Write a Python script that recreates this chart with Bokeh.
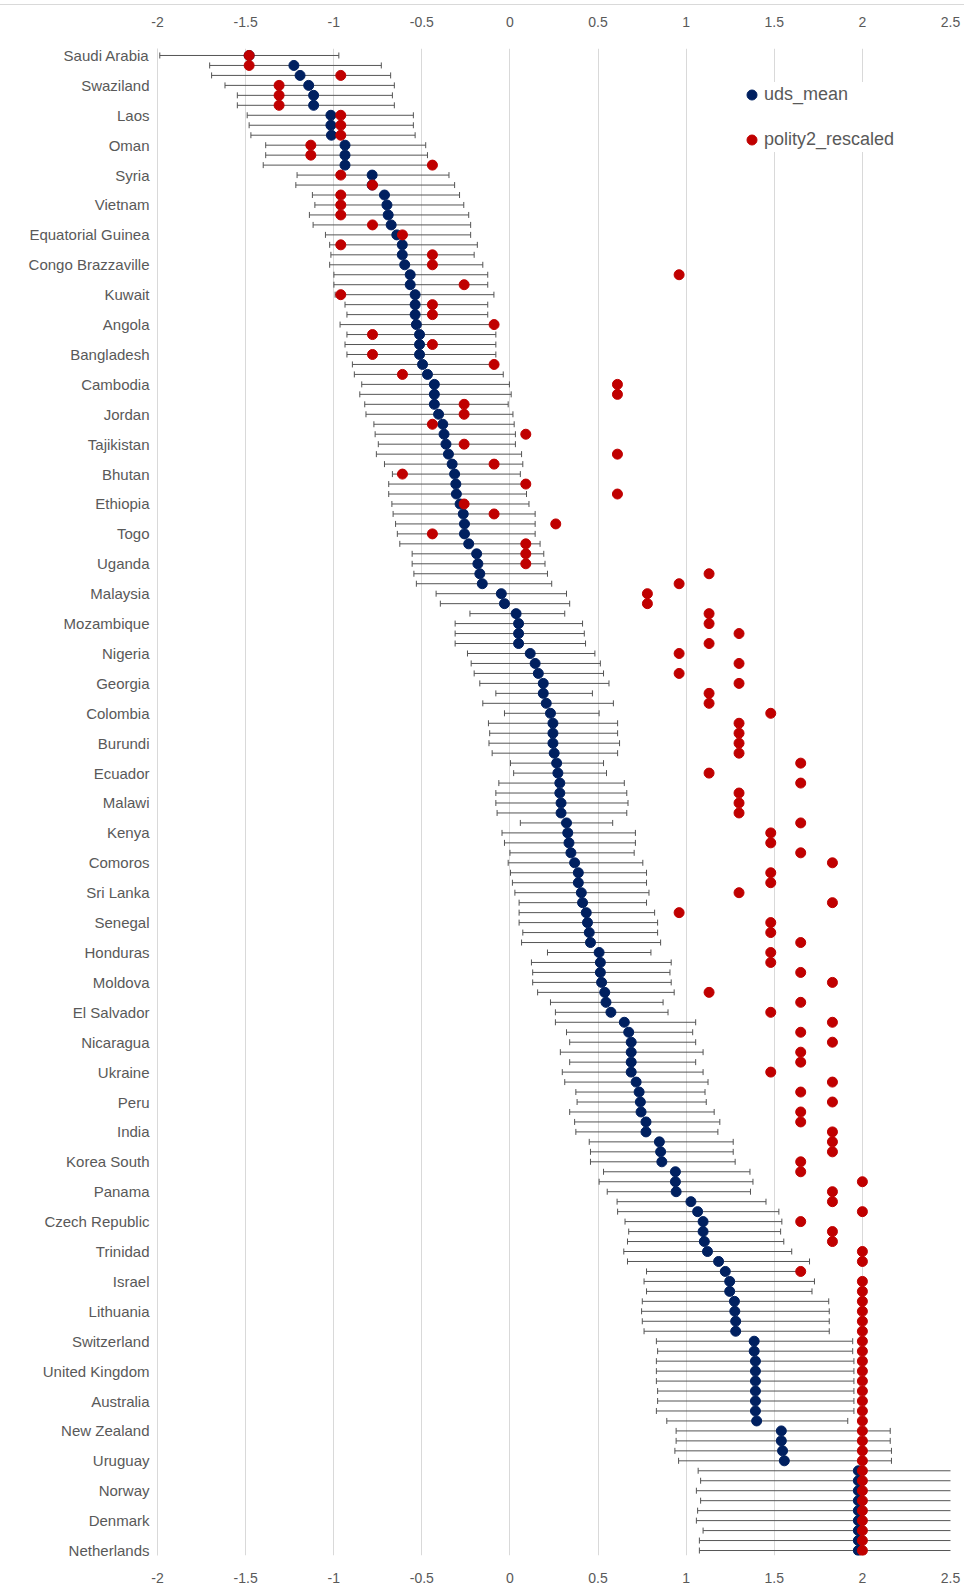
from bokeh.plotting import figure
from bokeh.models import (Range1d, LinearAxis, FixedTicker, ColumnDataSource,
                          Legend, LegendItem, Grid)
from bokeh.embed import file_html
from bokeh.resources import INLINE
import numpy as np

# Country labels (one shown for every third row)
countries = ["Saudi Arabia", "Swaziland", "Laos", "Oman", "Syria", "Vietnam",
             "Equatorial Guinea", "Congo Brazzaville", "Kuwait", "Angola", "Bangladesh",
             "Cambodia", "Jordan", "Tajikistan", "Bhutan", "Ethiopia", "Togo", "Uganda",
             "Malaysia", "Mozambique", "Nigeria", "Georgia", "Colombia", "Burundi",
             "Ecuador", "Malawi", "Kenya", "Comoros", "Sri Lanka", "Senegal", "Honduras",
             "Moldova", "El Salvador", "Nicaragua", "Ukraine", "Peru", "India",
             "Korea South", "Panama", "Czech Republic", "Trinidad", "Israel", "Lithuania",
             "Switzerland", "United Kingdom", "Australia", "New Zealand", "Uruguay",
             "Norway", "Denmark", "Netherlands"]
label_step = 3

uds_mean = [
    -1.48, -1.226, -1.191, -1.142, -1.114, -1.114, -1.016, -1.016, -1.013, -0.936,
    -0.936, -0.936, -0.782, -0.782, -0.712, -0.698, -0.691, -0.674, -0.642, -0.611,
    -0.611, -0.597, -0.566, -0.566, -0.538, -0.538, -0.538, -0.531, -0.513, -0.513,
    -0.513, -0.496, -0.468, -0.429, -0.429, -0.429, -0.405, -0.381, -0.374, -0.363,
    -0.349, -0.328, -0.314, -0.307, -0.304, -0.283, -0.265, -0.258, -0.258, -0.234,
    -0.189, -0.182, -0.171, -0.157, -0.049, -0.031, 0.035, 0.049, 0.049, 0.049,
    0.115, 0.143, 0.161, 0.189, 0.189, 0.206, 0.230, 0.244, 0.244, 0.244,
    0.251, 0.265, 0.272, 0.283, 0.283, 0.290, 0.290, 0.321, 0.328, 0.335,
    0.346, 0.367, 0.388, 0.388, 0.405, 0.412, 0.433, 0.440, 0.450, 0.457,
    0.506, 0.513, 0.513, 0.520, 0.538, 0.545, 0.573, 0.649, 0.674, 0.688,
    0.688, 0.688, 0.688, 0.716, 0.733, 0.740, 0.744, 0.772, 0.772, 0.848,
    0.855, 0.862, 0.939, 0.939, 0.943, 1.027, 1.065, 1.096, 1.096, 1.103,
    1.121, 1.184, 1.222, 1.247, 1.247, 1.274, 1.276, 1.281, 1.281, 1.386,
    1.386, 1.393, 1.393, 1.393, 1.393, 1.393, 1.393, 1.400, 1.540, 1.540,
    1.547, 1.557, 1.977, 1.977, 1.977, 1.977, 1.977, 1.977, 1.977, 1.977,
    1.977]

uds_low = [
    -1.987, -1.704, -1.693, -1.617, -1.547, -1.547, -1.491, -1.480, -1.470, -1.386,
    -1.386, -1.400, -1.208, -1.215, -1.121, -1.107, -1.138, -1.117, -1.047, -1.023,
    -1.016, -1.023, -0.999, -0.999, -0.992, -0.936, -0.925, -0.964, -0.925, -0.936,
    -0.925, -0.894, -0.883, -0.841, -0.852, -0.824, -0.817, -0.772, -0.765, -0.747,
    -0.758, -0.712, -0.667, -0.688, -0.688, -0.670, -0.663, -0.649, -0.639, -0.625,
    -0.555, -0.555, -0.545, -0.531, -0.419, -0.395, -0.227, -0.311, -0.311, -0.311,
    -0.241, -0.220, -0.203, -0.171, -0.080, -0.154, -0.031, -0.122, -0.115, -0.119,
    -0.101, 0.003, 0.021, -0.063, -0.080, -0.080, -0.073, 0.059, -0.045, -0.031,
    0.000, -0.010, 0.003, 0.014, 0.028, 0.052, 0.052, 0.052, 0.073, 0.066,
    0.213, 0.122, 0.129, 0.129, 0.157, 0.230, 0.258, 0.258, 0.321, 0.339,
    0.286, 0.339, 0.297, 0.311, 0.374, 0.381, 0.339, 0.367, 0.374, 0.450,
    0.457, 0.457, 0.531, 0.506, 0.552, 0.608, 0.611, 0.653, 0.674, 0.667,
    0.646, 0.667, 0.775, 0.761, 0.775, 0.751, 0.747, 0.751, 0.761, 0.831,
    0.838, 0.831, 0.831, 0.831, 0.838, 0.838, 0.831, 0.890, 0.943, 0.943,
    0.936, 0.957, 1.068, 1.082, 1.058, 1.082, 1.065, 1.058, 1.096, 1.075,
    1.075]

uds_high = [
    -0.971, -0.730, -0.677, -0.656, -0.667, -0.656, -0.548, -0.548, -0.538, -0.478,
    -0.468, -0.457, -0.346, -0.314, -0.286, -0.262, -0.234, -0.223, -0.223, -0.185,
    -0.203, -0.154, -0.126, -0.126, -0.091, -0.126, -0.126, -0.091, -0.080, -0.080,
    -0.080, -0.087, -0.038, -0.003, 0.007, -0.010, 0.017, 0.024, 0.031, 0.031,
    0.066, 0.073, 0.059, 0.094, 0.094, 0.108, 0.143, 0.143, 0.143, 0.171,
    0.192, 0.199, 0.213, 0.237, 0.321, 0.339, 0.311, 0.412, 0.422, 0.429,
    0.482, 0.513, 0.531, 0.562, 0.468, 0.587, 0.506, 0.611, 0.611, 0.622,
    0.611, 0.531, 0.548, 0.649, 0.663, 0.670, 0.663, 0.583, 0.712, 0.712,
    0.705, 0.754, 0.775, 0.775, 0.789, 0.775, 0.821, 0.838, 0.838, 0.855,
    0.800, 0.915, 0.908, 0.915, 0.932, 0.869, 0.897, 1.054, 1.037, 1.054,
    1.096, 1.054, 1.096, 1.124, 1.107, 1.114, 1.159, 1.191, 1.180, 1.267,
    1.267, 1.278, 1.362, 1.379, 1.365, 1.453, 1.526, 1.543, 1.536, 1.554,
    1.599, 1.700, 1.645, 1.728, 1.714, 1.809, 1.812, 1.812, 1.812, 1.945,
    1.945, 1.952, 1.952, 1.952, 1.952, 1.952, 1.952, 1.917, 2.158, 2.158,
    2.165, 2.165, 2.886, 2.872, 2.896, 2.872, 2.889, 2.896, 2.858, 2.879,
    2.879]

polity2_rescaled = [
    -1.48, -1.48, -0.96, -1.31, -1.31, -1.31, -0.96, -0.96, -0.96, -1.13,
    -1.13, -0.44, -0.96, -0.78, -0.96, -0.96, -0.96, -0.78, -0.61, -0.96,
    -0.44, -0.44, 0.96, -0.26, -0.96, -0.44, -0.44, -0.09, -0.78, -0.44,
    -0.78, -0.09, -0.61, 0.61, 0.61, -0.26, -0.26, -0.44, 0.09, -0.26,
    0.61, -0.09, -0.61, 0.09, 0.61, -0.26, -0.09, 0.26, -0.44, 0.09,
    0.09, 0.09, 1.13, 0.96, 0.78, 0.78, 1.13, 1.13, 1.30, 1.13,
    0.96, 1.30, 0.96, 1.30, 1.13, 1.13, 1.48, 1.30, 1.30, 1.30,
    1.30, 1.65, 1.13, 1.65, 1.30, 1.30, 1.30, 1.65, 1.48, 1.48,
    1.65, 1.83, 1.48, 1.48, 1.30, 1.83, 0.96, 1.48, 1.48, 1.65,
    1.48, 1.48, 1.65, 1.83, 1.13, 1.65, 1.48, 1.83, 1.65, 1.83,
    1.65, 1.65, 1.48, 1.83, 1.65, 1.83, 1.65, 1.65, 1.83, 1.83,
    1.83, 1.65, 1.65, 2.00, 1.83, 1.83, 2.00, 1.65, 1.83, 1.83,
    2.00, 2.00, 1.65, 2.00, 2.00, 2.00, 2.00, 2.00, 2.00, 2.00,
    2.00, 2.00, 2.00, 2.00, 2.00, 2.00, 2.00, 2.00, 2.00, 2.00,
    2.00, 2.00, 2.00, 2.00, 2.00, 2.00, 2.00, 2.00, 2.00, 2.00,
    2.00]

x_ticks = [-2, -1.5, -1, -0.5, 0, 0.5, 1, 1.5, 2, 2.5]
x_tick_labels = ["-2", "-1.5", "-1", "-0.5", "0", "0.5", "1", "1.5", "2", "2.5"]

rows = list(range(len(uds_mean)))
label_rows = rows[::label_step]

FONT = "Liberation Sans"
TEXT_COLOR = "#595959"
GRID_COLOR = "#d9d9d9"
BLUE = "#002060"
RED = "#C00000"
BAR_COLOR = "#555555"

src = ColumnDataSource(dict(row=rows, mean=uds_mean, low=uds_low, high=uds_high,
                            polity=polity2_rescaled))

p = figure(width=964, height=1588, output_backend="svg", toolbar_location=None,
           x_range=Range1d(-2, 2.5), y_range=Range1d(150.5, -0.7),
           x_axis_type=None, y_axis_type=None,
           min_border_left=157, min_border_right=14,
           min_border_top=43, min_border_bottom=38,
           styles={"margin-top": "4px", "border-top": "1px solid #d9d9d9"})
p.outline_line_color = None
p.background_fill_color = "white"
p.border_fill_color = "white"

# vertical gridlines
p.add_layout(Grid(dimension=0, ticker=FixedTicker(ticks=x_ticks),
                  grid_line_color=GRID_COLOR, grid_line_width=1))

overrides = {t: s for t, s in zip(x_ticks, x_tick_labels)}


def value_axis(standoff):
    return LinearAxis(ticker=FixedTicker(ticks=x_ticks), major_label_overrides=overrides,
                      axis_line_color=None, major_tick_line_color=None,
                      minor_tick_line_color=None, major_label_standoff=standoff,
                      major_label_text_font=FONT, major_label_text_font_size="14px",
                      major_label_text_color=TEXT_COLOR)


p.add_layout(value_axis(16), "above")
p.add_layout(value_axis(11), "below")

cat_axis = LinearAxis(ticker=FixedTicker(ticks=label_rows),
                      major_label_overrides={r: n for r, n in zip(label_rows, countries)},
                      axis_line_color=GRID_COLOR, major_tick_line_color=None,
                      minor_tick_line_color=None, major_label_standoff=2,
                      major_label_text_font=FONT, major_label_text_font_size="15px",
                      major_label_text_color=TEXT_COLOR)
p.add_layout(cat_axis, "left")

# error bars with end caps
p.segment(x0="low", y0="row", x1="high", y1="row", source=src,
          line_color=BAR_COLOR, line_width=1)
p.scatter(x="low", y="row", source=src, marker="dash", angle=np.pi / 2, size=6,
          line_color=BAR_COLOR, line_width=1)
p.scatter(x="high", y="row", source=src, marker="dash", angle=np.pi / 2, size=6,
          line_color=BAR_COLOR, line_width=1)

blue_r = p.scatter(x="mean", y="row", source=src, size=10, fill_color=BLUE,
                   line_color=BLUE)
red_r = p.scatter(x="polity", y="row", source=src, size=10, fill_color=RED,
                  line_color=RED)

legend = Legend(items=[LegendItem(label="uds_mean", renderers=[blue_r]),
                       LegendItem(label="polity2_rescaled", renderers=[red_r])],
                location=(582, 1403), glyph_width=25, glyph_height=25,
                label_height=20, spacing=20, padding=14, margin=0, label_standoff=0,
                label_text_font=FONT, label_text_font_size="18px",
                label_text_color=TEXT_COLOR, border_line_color=None,
                background_fill_color="white", background_fill_alpha=1)
p.add_layout(legend)

open("out.html", "w").write(file_html(p, INLINE))
